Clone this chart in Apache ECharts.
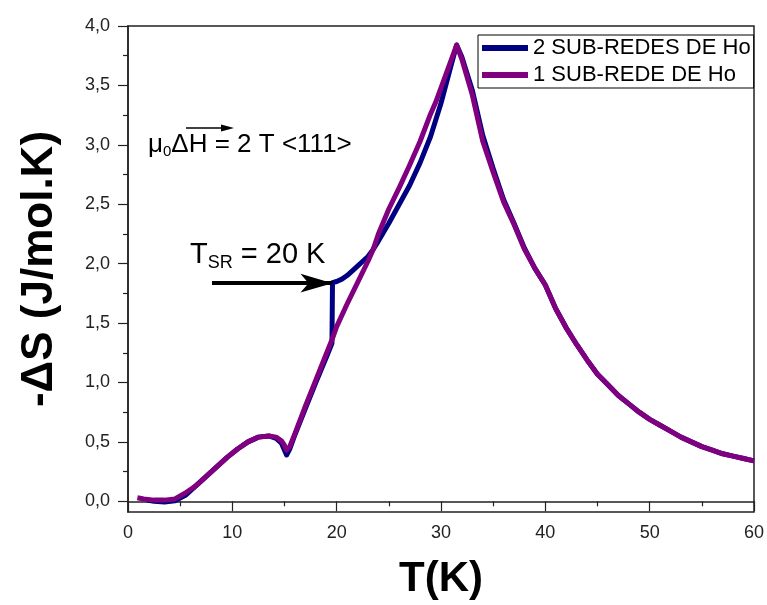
<!DOCTYPE html>
<html>
<head>
<meta charset="utf-8">
<script src="https://cdn.jsdelivr.net/npm/echarts@6/dist/echarts.min.js"></script>
<style>
  html, body { margin: 0; padding: 0; background: #fff; }
  #chart { width: 767px; height: 605px; }
</style>
</head>
<body>
<div id="chart"></div>
<script>
// Magnetic entropy change of Ho compound, field 2 T along <111>
const seriesNames = ['2 SUB-REDES DE Ho', '1 SUB-REDE DE Ho'];

// two sublattices model
const tempTwo = [1.8, 2.5, 3.5, 4.5, 5.5, 6.5, 7.5, 8.5, 9.5, 10.5, 11.5, 12.5, 13.5, 14.2, 14.7, 15.0, 15.2, 15.5, 16, 17, 18, 19, 19.55,
  19.6, 20, 20.5, 21, 21.5, 22, 22.5, 23, 23.5, 24, 25, 26, 27, 28, 29, 30, 31, 31.5,
  32, 33, 34, 35, 36, 37, 38, 39, 40, 41, 42, 43, 44, 45, 46, 47, 48, 49, 50, 51, 52, 53, 54, 55, 56, 57, 58, 59, 60];
const dsTwo = [0.01, 0.0, -0.005, 0.005, 0.05, 0.13, 0.21, 0.29, 0.37, 0.44, 0.5, 0.54, 0.55, 0.53, 0.49, 0.43, 0.39, 0.44, 0.56, 0.78, 1.0, 1.21, 1.33,
  1.84, 1.85, 1.87, 1.9, 1.94, 1.98, 2.02, 2.06, 2.12, 2.19, 2.34, 2.5, 2.66, 2.85, 3.07, 3.35, 3.68, 3.84,
  3.74, 3.46, 3.08, 2.8, 2.54, 2.34, 2.13, 1.96, 1.82, 1.62, 1.46, 1.32, 1.19, 1.07, 0.98, 0.89, 0.82, 0.75, 0.69, 0.64, 0.59, 0.54, 0.50, 0.46, 0.43, 0.40, 0.38, 0.36, 0.34];

// single sublattice model
const tempOne = [0.9, 1.5, 2.5, 3.5, 4.5, 5.5, 6.5, 7.5, 8.5, 9.5, 10.5, 11.5, 12.5, 13.5, 14.2, 14.7, 15.0, 15.2, 15.5, 16, 17, 18, 19, 19.6,
  20, 21, 22, 23, 23.5, 24, 25, 26, 27, 28, 29, 29.5, 30, 30.5, 31, 31.5,
  32, 33, 34, 35, 36, 37, 38, 39, 40, 41, 42, 43, 44, 45, 46, 47, 48, 49, 50, 51, 52, 53, 54, 55, 56, 57, 58, 59, 60];
const dsOne = [0.03, 0.02, 0.01, 0.01, 0.02, 0.07, 0.13, 0.21, 0.29, 0.37, 0.44, 0.5, 0.54, 0.55, 0.54, 0.51, 0.47, 0.43, 0.46, 0.57, 0.8, 1.02, 1.24, 1.37,
  1.47, 1.66, 1.84, 2.02, 2.12, 2.25, 2.46, 2.64, 2.83, 3.03, 3.26, 3.36, 3.48, 3.6, 3.72, 3.84,
  3.72, 3.42, 3.03, 2.77, 2.52, 2.33, 2.12, 1.96, 1.82, 1.62, 1.46, 1.32, 1.19, 1.07, 0.98, 0.89, 0.82, 0.75, 0.69, 0.64, 0.59, 0.54, 0.50, 0.46, 0.43, 0.40, 0.38, 0.36, 0.34];

// axis ticks
const yMajorTicks = [0, 0.5, 1, 1.5, 2, 2.5, 3, 3.5, 4];
const yMinorTicks = [0.25, 0.75, 1.25, 1.75, 2.25, 2.75, 3.25, 3.75];

// spin reorientation arrow (T, -ΔS)
const arrowStart = [8.05, 1.836];
const arrowEnd = [19.6, 1.836];

const zip = (xs, ys) => xs.map((x, i) => [x, ys[i]]);
const FONT = '"Liberation Sans", Arial, sans-serif';
const comma = v => v.toFixed(1).replace('.', ',');

const chart = echarts.init(document.getElementById('chart'), null, { renderer: 'canvas' });

chart.setOption({
  animation: false,
  backgroundColor: '#fff',
  grid: {
    left: 128, right: 13, top: 26, bottom: 92,
    show: true, borderColor: '#222', borderWidth: 1.5
  },
  legend: {
    data: seriesNames,
    orient: 'vertical',
    left: 478, top: 35,
    icon: 'rect',
    itemWidth: 46, itemHeight: 6, itemGap: 5,
    padding: [2, 3, 2, 4],
    backgroundColor: '#fff',
    borderColor: '#000', borderWidth: 1,
    textStyle: { fontFamily: FONT, fontSize: 22, color: '#000' }
  },
  xAxis: {
    type: 'value', min: 0, max: 60, interval: 10,
    name: 'T(K)', nameLocation: 'middle', nameGap: 46,
    nameTextStyle: { fontFamily: FONT, fontSize: 42, fontWeight: 'bold', color: '#000' },
    axisLine: { lineStyle: { color: '#222', width: 1.5 } },
    axisTick: { length: 10, lineStyle: { color: '#222', width: 1.2 } },
    minorTick: { show: true, splitNumber: 2, length: 5, lineStyle: { color: '#222', width: 1.2 } },
    axisLabel: { margin: 12, fontFamily: FONT, fontSize: 18, color: '#222' },
    splitLine: { show: false }
  },
  yAxis: [{
    type: 'value', min: -0.09, max: 4.0,
    name: '-ΔS (J/mol.K)', nameLocation: 'middle', nameGap: 66, nameRotate: 90,
    nameTextStyle: { fontFamily: FONT, fontSize: 44, fontWeight: 'bold', color: '#000' },
    axisLine: { show: true, lineStyle: { color: '#222', width: 1.5 } },
    axisTick: { show: true, length: 10, customValues: yMajorTicks, lineStyle: { color: '#222', width: 1.2 } },
    axisLabel: { margin: 18, customValues: yMajorTicks, fontFamily: FONT, fontSize: 18, color: '#222', formatter: comma },
    splitLine: { show: false }
  }, {
    type: 'value', min: -0.09, max: 4.0, position: 'left',
    axisLine: { show: false },
    axisTick: { show: true, length: 5, customValues: yMinorTicks, lineStyle: { color: '#222', width: 1.2 } },
    axisLabel: { show: false },
    splitLine: { show: false }
  }],
  series: [{
    name: seriesNames[0], type: 'line', data: zip(tempTwo, dsTwo),
    showSymbol: false, symbol: 'none',
    lineStyle: { color: '#000080', width: 5, join: 'round' },
    itemStyle: { color: '#000080' },
    z: 2,
    markLine: {
      silent: true,
      symbol: ['none', 'arrow'], symbolSize: [14, 32],
      lineStyle: { color: '#000', width: 4, type: 'solid' },
      label: { show: false },
      data: [[{ coord: arrowStart }, { coord: arrowEnd }]]
    }
  }, {
    name: seriesNames[1], type: 'line', data: zip(tempOne, dsOne),
    showSymbol: false, symbol: 'none',
    lineStyle: { color: '#800080', width: 5, join: 'round' },
    itemStyle: { color: '#800080' },
    z: 3
  }],
  graphic: [{
    type: 'text', left: 148, top: 132,
    style: {
      text: '{g|μ}{s|0}{g|ΔH = 2 T <111>}',
      rich: {
        g: { fontFamily: FONT, fontSize: 26, fill: '#000' },
        s: { fontFamily: FONT, fontSize: 15, fill: '#000', padding: [13, 0, 0, 0] }
      }
    }
  }, {
    type: 'line', shape: { x1: 186, y1: 128, x2: 230, y2: 128 },
    style: { stroke: '#000', lineWidth: 1.5 }
  }, {
    type: 'polygon', shape: { points: [[221, 124.5], [234, 128], [221, 131.5]] },
    style: { fill: '#000' }
  }, {
    type: 'text', left: 190, top: 240,
    style: {
      text: '{g|T}{s|SR}{g| = 20 K}',
      rich: {
        g: { fontFamily: FONT, fontSize: 29, fill: '#000' },
        s: { fontFamily: FONT, fontSize: 18, fill: '#000', padding: [17, 0, 0, 0] }
      }
    }
  }]
});
</script>
</body>
</html>
